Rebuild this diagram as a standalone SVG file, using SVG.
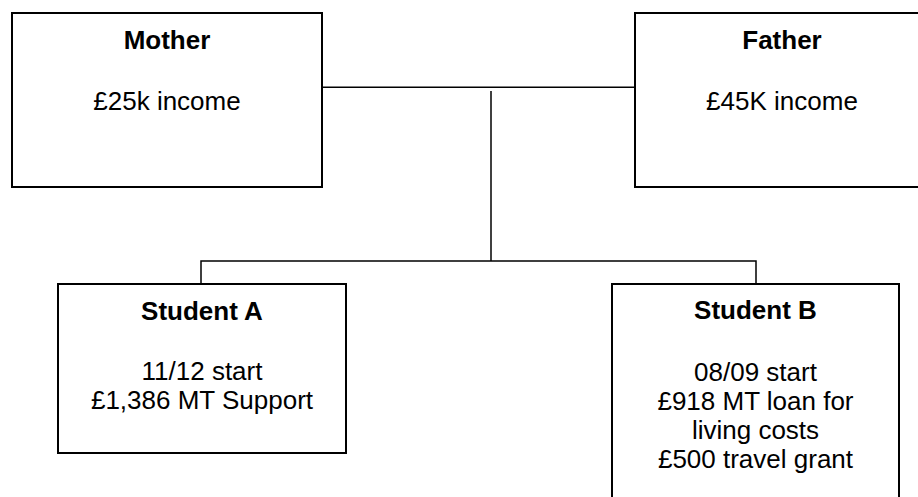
<svg xmlns="http://www.w3.org/2000/svg" width="918" height="497" viewBox="0 0 918 497">
<style>
.box{fill:#fff;stroke:#000;stroke-width:2}
.c{fill:none;stroke:#000;stroke-width:1.5}
text{font-family:"Liberation Sans",Arial,sans-serif;font-size:26px;fill:#000;text-anchor:middle}
.b{font-weight:bold}
</style>
<rect width="918" height="497" fill="#fff"/>
<g id="connectors">
<line class="c" x1="322" y1="87.3" x2="635" y2="87.3"/>
<line class="c" x1="491" y1="91" x2="491" y2="261"/>
<polyline class="c" points="201,284 201,261 756,261 756,284"/>
</g>
<g id="mother">
<rect class="box" x="12" y="13" width="310" height="174"/>
<text class="b" x="167" y="49">Mother</text>
<text x="167" y="110">£25k income</text>
</g>
<g id="father">
<rect class="box" x="635" y="13" width="294" height="174"/>
<text class="b" x="782" y="49">Father</text>
<text x="782" y="110">£45K income</text>
</g>
<g id="studentA">
<rect class="box" x="58" y="284" width="288" height="169"/>
<text class="b" x="202" y="320">Student A</text>
<text x="202" y="380">11/12 start</text>
<text x="202" y="409">£1,386 MT Support</text>
</g>
<g id="studentB">
<rect class="box" x="612" y="284" width="287" height="230"/>
<text class="b" x="755.5" y="319">Student B</text>
<text x="755.5" y="381">08/09 start</text>
<text x="755.5" y="410">£918 MT loan for</text>
<text x="755.5" y="439">living costs</text>
<text x="755.5" y="468">£500 travel grant</text>
</g>
</svg>
